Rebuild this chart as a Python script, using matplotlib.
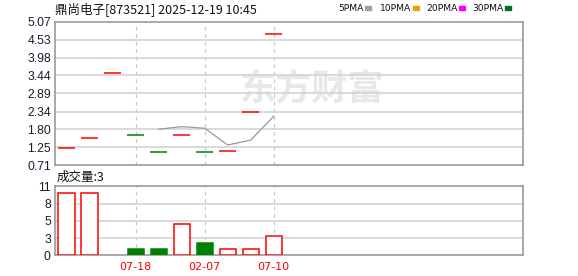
import numpy as np
import matplotlib
matplotlib.use("Agg")
import matplotlib.pyplot as plt

# K-line data (one price per day, open = close)
closes = [1.22, 1.52, 3.50, 1.61, 1.11, 1.61, 1.11, 1.14, 2.32, 4.70]
up_day = [True, True, True, False, False, True, False, True, True, True]
volumes = [10, 10, 0, 1, 1, 5, 2, 1, 1, 3]
ma5 = [np.nan, np.nan, np.nan, np.nan, 1.80, 1.88, 1.83, 1.32, 1.47, 2.20]

price_ticks = [0.71, 1.25, 1.80, 2.34, 2.89, 3.44, 3.98, 4.53, 5.07]
vol_ticks = [0, 2.75, 5.5, 8.25, 11]
vol_tick_labels = ["0", "3", "5", "8", "11"]
date_pos = [3, 6, 9]
date_labels = ["07-18", "02-07", "07-10"]

legend_names = ["5PMA", "10PMA", "20PMA", "30PMA"]
legend_colors = ["#a0a0a0", "#f0a000", "#ff00ff", "#006f30"]

RED = "#ff0000"
GREEN = "#008000"
FRAME = "#999999"
GRID = "#d0d0d0"
CJK = ["Noto Sans CJK SC", "DejaVu Sans"]
NUM = "Liberation Sans"

fig = plt.figure(figsize=(5.78, 2.76), dpi=100)
ax = fig.add_axes([55 / 578, 1 - 165 / 276, 467.5 / 578, 143 / 276])
axv = fig.add_axes([55 / 578, 1 - 255.3 / 276, 467.5 / 578, 69 / 276])

x = np.arange(len(closes))
colors = [RED if u else GREEN for u in up_day]
xlim = (-0.5, 19.8)

for a in (ax, axv):
    a.set_xlim(*xlim)
    for s in a.spines.values():
        s.set_color(FRAME)
        s.set_linewidth(1.2)
    a.tick_params(length=0, pad=3, labelsize=8.7, labelcolor="#1a1a2e")
    for p in date_pos:
        a.axvline(p, color="#c8c8c8", lw=0.9, ls=(0, (3, 3)), zorder=1)

# price panel
ax.set_ylim(price_ticks[0], price_ticks[-1])
ax.set_yticks(price_ticks)
ax.set_yticklabels([f"{t:.2f}" for t in price_ticks], fontfamily=NUM)
ax.set_xticks([])
for t in price_ticks[1:-1]:
    ax.axhline(t, color=GRID, lw=1.1, zorder=1)

# watermark
ax.text(0.395, 0.53, "东方财富", transform=ax.transAxes, fontsize=26,
        fontweight="bold", family=CJK, color="#e8e8ec", ha="left",
        va="center", zorder=0.5)

ax.hlines(closes, x - 0.37, x + 0.37, colors=colors, lw=1.1, zorder=3)
ax.plot(x, ma5, color="#999999", lw=0.9, zorder=2)

# volume panel
axv.set_ylim(0, 11)
axv.set_yticks(vol_ticks)
axv.set_yticklabels(vol_tick_labels, fontfamily=NUM)
for t in vol_ticks[1:-1]:
    axv.axhline(t, color=GRID, lw=1.1, zorder=1)
face = ["white" if u else GREEN for u in up_day]
edge = [c if v > 0 else "none" for c, v in zip(colors, volumes)]
axv.bar(x, volumes, width=0.7, color=face, edgecolor=edge, lw=1.1, zorder=3)
axv.set_xticks(date_pos)
axv.set_xticklabels(date_labels, color=RED, fontsize=8, fontfamily="DejaVu Sans")
axv.tick_params(axis="x", pad=5)

# texts
fig.text(55 / 578, 1 - 9 / 276, "鼎尚电子[873521] 2025-12-19 10:45", family=CJK,
         fontsize=9, va="center", ha="left", color="#111111")
fig.text(57 / 578, 1 - 177 / 276, "成交量:3", family=CJK, fontsize=9,
         va="center", ha="left", color="#111111")

leg_x = [338, 380, 426, 472]
sq_x = [365, 413, 459, 505]
for name, col, lx, sx in zip(legend_names, legend_colors, leg_x, sq_x):
    fig.text(lx / 578, 1 - 8.5 / 276, name, fontsize=6.6, family="DejaVu Sans",
             va="center", ha="left", color="#111111")
    fig.patches.append(plt.Rectangle((sx / 578, 1 - 10 / 276), 6 / 578, 4 / 276,
                                     transform=fig.transFigure, color=col))

fig.savefig("out.png", dpi=100)
